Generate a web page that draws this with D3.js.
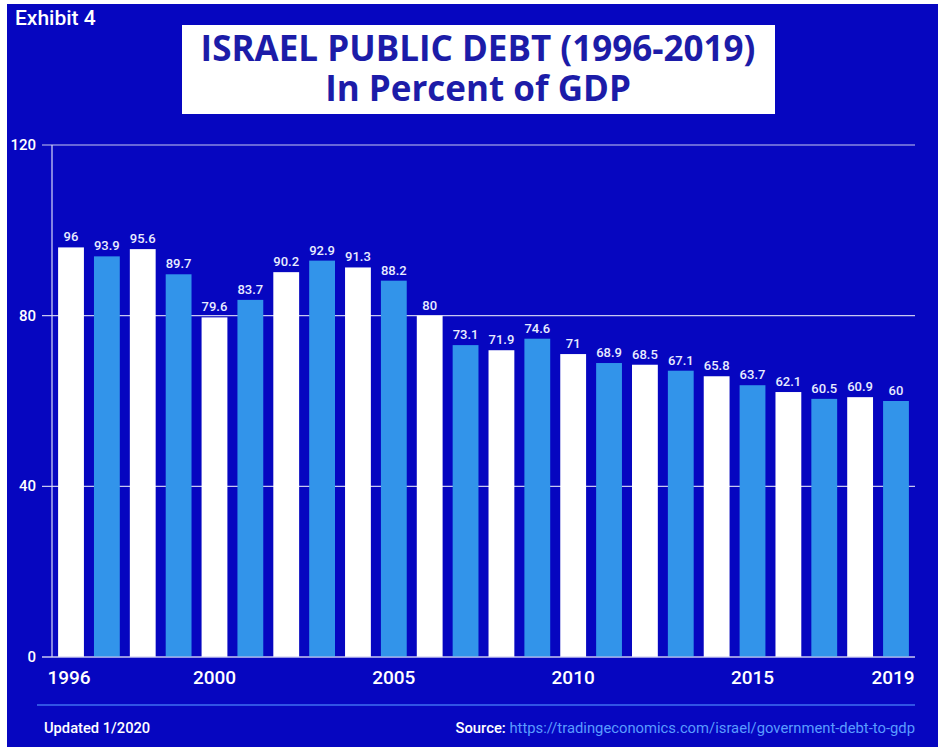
<!DOCTYPE html>
<html>
<head>
<meta charset="utf-8">
<script src="https://cdn.jsdelivr.net/npm/d3@7"></script>
<style>
  html, body { margin: 0; padding: 0; background: #ffffff; }
  svg { display: block; }
</style>
</head>
<body>
<svg id="chart" width="940" height="748"></svg>
<script>
const years = [1996,1997,1998,1999,2000,2001,2002,2003,2004,2005,2006,2007,2008,2009,2010,2011,2012,2013,2014,2015,2016,2017,2018,2019];
const debt = [96,93.9,95.6,89.7,79.6,83.7,90.2,92.9,91.3,88.2,80,73.1,71.9,74.6,71,68.9,68.5,67.1,65.8,63.7,62.1,60.5,60.9,60];
const yTicks = [0,40,80,120];
const xTickYears = [1996,2000,2005,2010,2015,2019];
const titleLines = ["ISRAEL PUBLIC DEBT (1996-2019)", "In Percent of GDP"];

const svg = d3.select("#chart");
const BG = "#0606c0";

svg.append("rect").attr("x",7).attr("y",4).attr("width",931).attr("height",743).attr("fill",BG);

svg.append("text").attr("x",15).attr("y",25)
  .attr("font-family","Roboto").attr("font-weight",500).attr("font-size",21)
  .attr("fill","#ffffff").text("Exhibit 4");

// title box
svg.append("rect").attr("x",182).attr("y",25).attr("width",593).attr("height",89).attr("fill","#ffffff");
const title = svg.append("text").attr("text-anchor","middle")
  .attr("font-family","Open Sans").attr("font-weight",700).attr("font-size",35)
  .attr("fill","#1c1ca8");
title.append("tspan").attr("x",478).attr("y",61).text(titleLines[0]);
title.append("tspan").attr("x",478).attr("y",101).text(titleLines[1]);

const x = d3.scaleBand().domain(years).range([52, 915]).paddingInner(0.28).paddingOuter(0.17);
const y = d3.scaleLinear().domain([0,120]).range([657,145]);

// gridlines
const grid = svg.append("g");
grid.selectAll("line").data(yTicks).join("line")
  .attr("x1",42).attr("x2",915)
  .attr("y1",d=>y(d)).attr("y2",d=>y(d))
  .attr("stroke","#c8c8f0").attr("stroke-width",1.2);

// y axis line
svg.append("line").attr("x1",52).attr("x2",52).attr("y1",y(120)).attr("y2",y(0))
  .attr("stroke","#d8d8f8").attr("stroke-width",1.2);

// y tick labels
svg.append("g").selectAll("text").data(yTicks).join("text")
  .attr("x",36).attr("y",d=>y(d)+5).attr("text-anchor","end")
  .attr("font-family","Roboto").attr("font-weight",500).attr("font-size",15)
  .attr("fill","#ffffff").text(d=>d);

// bars
svg.append("g").selectAll("rect").data(years).join("rect")
  .attr("x",d=>x(d)).attr("width",x.bandwidth())
  .attr("y",(d,i)=>y(debt[i])).attr("height",(d,i)=>y(0)-y(debt[i]))
  .attr("fill",(d,i)=> i%2===0 ? "#ffffff" : "#3294ea");

// value labels
svg.append("g").selectAll("text").data(years).join("text")
  .attr("x",d=>x(d)+x.bandwidth()/2).attr("y",(d,i)=>y(debt[i])-6)
  .attr("text-anchor","middle")
  .attr("font-family","Roboto").attr("font-weight",500).attr("font-size",13)
  .attr("fill","#e8ecff").text((d,i)=>debt[i]);

// baseline
svg.append("line").attr("x1",42).attr("x2",915).attr("y1",y(0)).attr("y2",y(0))
  .attr("stroke","#c8c8f0").attr("stroke-width",1.2);

// x tick labels
svg.append("g").selectAll("text").data(xTickYears).join("text")
  .attr("x",d=>x(d)+x.bandwidth()/2 - (d===1996?2:0) - (d===2019?3:0))
  .attr("y",684).attr("text-anchor","middle")
  .attr("font-family","Roboto").attr("font-weight",500).attr("font-size",19)
  .attr("fill","#ffffff").text(d=>d);

// footer separator
svg.append("line").attr("x1",37).attr("x2",915).attr("y1",705).attr("y2",705)
  .attr("stroke","#3f6ff0").attr("stroke-width",1.5);

svg.append("text").attr("x",44).attr("y",733)
  .attr("font-family","Roboto").attr("font-weight",500).attr("font-size",14.7)
  .attr("fill","#ffffff").text("Updated 1/2020");

const src = svg.append("text").attr("x",915).attr("y",733).attr("text-anchor","end")
  .attr("font-family","Roboto").attr("font-weight",500).attr("font-size",14.8);
src.append("tspan").attr("fill","#ffffff").text("Source: ");
src.append("tspan").attr("fill","#5a9cff").attr("font-weight",400).text("https://tradingeconomics.com/israel/government-debt-to-gdp");
</script>
</body>
</html>
